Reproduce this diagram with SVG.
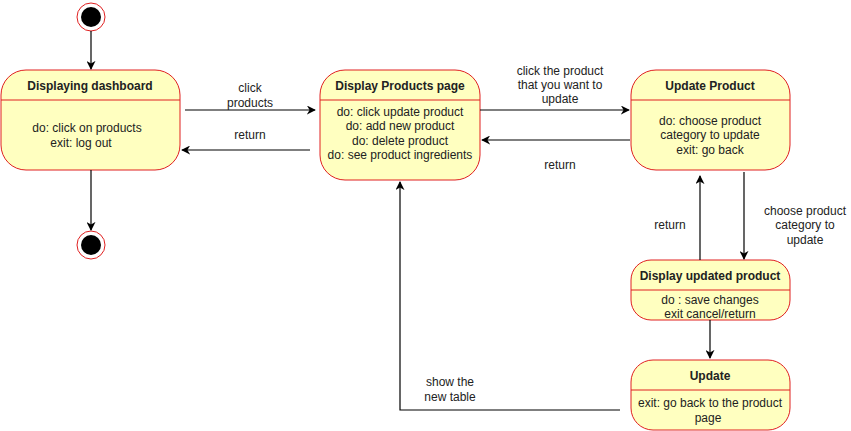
<svg xmlns="http://www.w3.org/2000/svg" width="851" height="431" viewBox="0 0 851 431">
<style>
.st{fill:#ffffc0;stroke:#e02020;stroke-width:1}
.dv{stroke:#e02020;stroke-width:1}
.t{font-family:"Liberation Sans",Arial,sans-serif;font-size:12px;fill:#222;text-anchor:middle}
.b{font-weight:bold}
.c{fill:none;stroke:#000;stroke-width:1.2}
</style>
<defs>
<marker id="ah" viewBox="0 0 10 10" refX="9" refY="5" markerWidth="9" markerHeight="9" orient="auto" markerUnits="userSpaceOnUse">
<path d="M0,0 L10,5 L0,10 L3,5 Z" fill="#000"/>
</marker>
</defs>
<rect width="851" height="431" fill="#fff"/>
<g id="start">
<circle cx="91" cy="17" r="14" fill="#fff" stroke="#e02020"/>
<circle cx="91" cy="17" r="10" fill="#000"/>
</g>
<g id="end">
<circle cx="91" cy="245" r="14" fill="#fff" stroke="#e02020"/>
<circle cx="91" cy="245" r="10" fill="#000"/>
</g>
<g id="dashboard">
<rect class="st" x="1" y="70" width="179" height="100" rx="25"/>
<line class="dv" x1="1" y1="100" x2="180" y2="100"/>
<text class="t b" x="90" y="90">Displaying dashboard</text>
<text class="t" x="87" y="132">do: click on products</text>
<text class="t" x="81" y="147">exit: log out</text>
</g>
<g id="products">
<rect class="st" x="320" y="70" width="160" height="110" rx="25"/>
<line class="dv" x1="320" y1="100" x2="480" y2="100"/>
<text class="t b" x="400" y="90">Display Products page</text>
<text class="t" x="400" y="116">do: click update product</text>
<text class="t" x="400" y="130">do: add new product</text>
<text class="t" x="400" y="145">do: delete product</text>
<text class="t" x="400" y="159">do: see product ingredients</text>
</g>
<g id="updateProduct">
<rect class="st" x="631" y="70" width="159" height="100" rx="25"/>
<line class="dv" x1="631" y1="100" x2="790" y2="100"/>
<text class="t b" x="710" y="90">Update Product</text>
<text class="t" x="710" y="125">do: choose product</text>
<text class="t" x="710" y="139">category to update</text>
<text class="t" x="710" y="154">exit: go back</text>
</g>
<g id="displayUpdated">
<rect class="st" x="631" y="260" width="159" height="60" rx="20"/>
<line class="dv" x1="631" y1="290" x2="790" y2="290"/>
<text class="t b" x="710" y="280">Display updated product</text>
<text class="t" x="710" y="304">do : save changes</text>
<text class="t" x="710" y="318">exit cancel/return</text>
</g>
<g id="update">
<rect class="st" x="631" y="360" width="159" height="70" rx="22"/>
<line class="dv" x1="631" y1="390" x2="790" y2="390"/>
<text class="t b" x="710" y="380">Update</text>
<text class="t" x="710" y="407">exit: go back to the product</text>
<text class="t" x="708" y="422">page</text>
</g>
<g id="connectors">
<line class="c" x1="91" y1="31" x2="91" y2="69" marker-end="url(#ah)"/>
<line class="c" x1="91" y1="170" x2="91" y2="230" marker-end="url(#ah)"/>
<line class="c" x1="185" y1="110" x2="315" y2="110" marker-end="url(#ah)"/>
<line class="c" x1="310" y1="150" x2="182" y2="150" marker-end="url(#ah)"/>
<line class="c" x1="480" y1="110" x2="629" y2="110" marker-end="url(#ah)"/>
<line class="c" x1="630" y1="140" x2="482" y2="140" marker-end="url(#ah)"/>
<line class="c" x1="744" y1="172" x2="744" y2="259" marker-end="url(#ah)"/>
<line class="c" x1="700" y1="260" x2="700" y2="176" marker-end="url(#ah)"/>
<line class="c" x1="710" y1="320" x2="710" y2="358" marker-end="url(#ah)"/>
<polyline class="c" points="620,410 400,410 400,182" marker-end="url(#ah)"/>
<text class="t" x="250" y="92">click</text>
<text class="t" x="250" y="107">products</text>
<text class="t" x="250" y="139">return</text>
<text class="t" x="560" y="75">click the product</text>
<text class="t" x="560" y="89">that you want to</text>
<text class="t" x="560" y="103">update</text>
<text class="t" x="560" y="169">return</text>
<text class="t" x="805" y="215">choose product</text>
<text class="t" x="805" y="229">category to</text>
<text class="t" x="805" y="244">update</text>
<text class="t" x="670" y="229">return</text>
<text class="t" x="450" y="386">show the</text>
<text class="t" x="450" y="401">new table</text>
</g>
</svg>
